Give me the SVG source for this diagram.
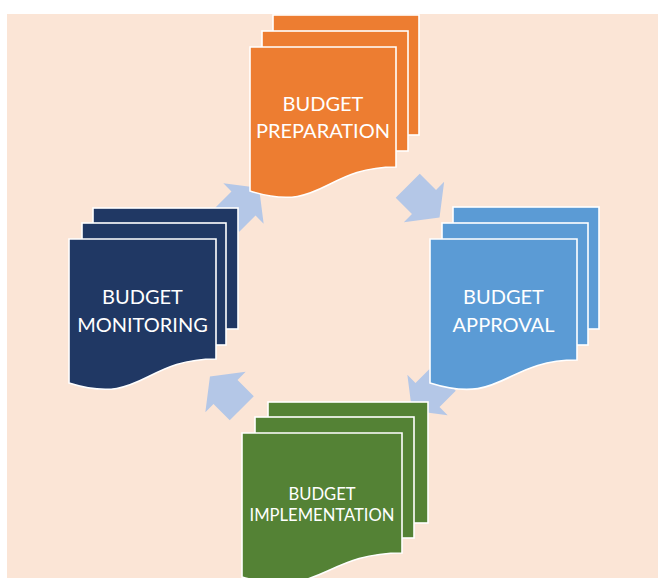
<svg xmlns="http://www.w3.org/2000/svg" width="658" height="578" viewBox="0 0 658 578">
<style>
.sh{stroke:#FFFFFF;stroke-width:1.6}
.or{fill:#ED7D31}.bl{fill:#5B9BD5}.gr{fill:#548235}.nv{fill:#203864}
.arr{fill:#B4C7E7}
.t{font-family:Lato,"Open Sans","Liberation Sans",sans-serif;fill:#FFFFFF;text-anchor:middle}
.t1{font-size:20px}.t2{font-size:16.6px}
</style>
<defs>
<path id="arrow" d="M-23,-17 L0,-17 L0,-28.5 L22,0 L0,28.5 L0,17 L-23,17 Z"/>
</defs>
<rect x="0" y="0" width="658" height="578" fill="#FFFFFF"/>
<rect x="7" y="14" width="651" height="564" fill="#FBE5D6"/>
<g id="connectors">
<use href="#arrow" class="arr" transform="translate(243.5,203.5) rotate(-45)"/>
<use href="#arrow" class="arr" transform="translate(424,202) rotate(45)"/>
<use href="#arrow" class="arr" transform="translate(427.5,395) rotate(135)"/>
<use href="#arrow" class="arr" transform="translate(225.5,392) rotate(-135)"/>
</g>
<g id="budget-preparation">
<rect class="sh or" x="273" y="15" width="146" height="120"/>
<rect class="sh or" x="262" y="31" width="146" height="120"/>
<path class="sh or" d="M250,191 C323,214 323,167 396,167 L396,47 L250,47 Z"/>
<text class="t t1" x="323" y="111">BUDGET</text>
<text class="t t1" x="323" y="138">PREPARATION</text>
</g>
<g id="budget-approval">
<rect class="sh bl" x="453" y="207" width="146" height="122"/>
<rect class="sh bl" x="442" y="223" width="146" height="122"/>
<path class="sh bl" d="M430,383 C503.5,406 503.5,360 577,360 L577,239 L430,239 Z"/>
<text class="t t1" x="503.5" y="304">BUDGET</text>
<text class="t t1" x="503.5" y="332">APPROVAL</text>
</g>
<g id="budget-implementation">
<rect class="sh gr" x="268" y="402" width="160" height="121"/>
<rect class="sh gr" x="255" y="417" width="159" height="121"/>
<path class="sh gr" d="M242,577 C322,600 322,553 402,553 L402,433 L242,433 Z"/>
<text class="t t2" x="322" y="500">BUDGET</text>
<text class="t t2" x="322" y="521">IMPLEMENTATION</text>
</g>
<g id="budget-monitoring">
<rect class="sh nv" x="93" y="208" width="145" height="121"/>
<rect class="sh nv" x="82" y="223" width="144" height="122"/>
<path class="sh nv" d="M69,383 C142.5,406 142.5,359 216,359 L216,239 L69,239 Z"/>
<text class="t t1" x="142.5" y="304">BUDGET</text>
<text class="t t1" x="142.5" y="332">MONITORING</text>
</g>
</svg>
